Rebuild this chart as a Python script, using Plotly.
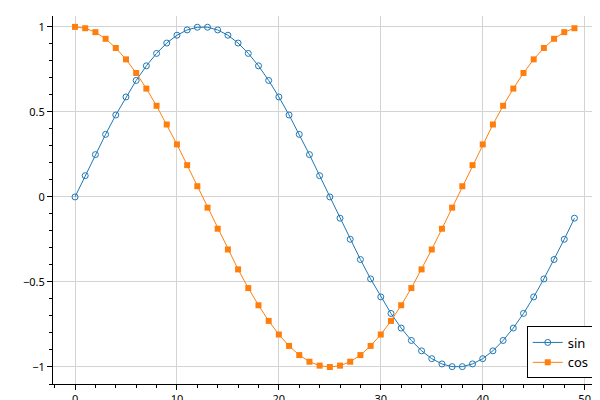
import plotly.graph_objects as go

x = list(range(50))
sin_vals = [0, 0.125, 0.249, 0.368, 0.482, 0.588, 0.685, 0.771, 0.844, 0.905,
            0.951, 0.982, 0.998, 0.998, 0.982, 0.951, 0.905, 0.844, 0.771, 0.685,
            0.588, 0.482, 0.368, 0.249, 0.125, 0, -0.125, -0.249, -0.368, -0.482,
            -0.588, -0.685, -0.771, -0.844, -0.905, -0.951, -0.982, -0.998, -0.998, -0.982,
            -0.951, -0.905, -0.844, -0.771, -0.685, -0.588, -0.482, -0.368, -0.249, -0.125]
cos_vals = [1, 0.992, 0.969, 0.930, 0.876, 0.809, 0.729, 0.637, 0.536, 0.426,
            0.309, 0.187, 0.063, -0.063, -0.187, -0.309, -0.426, -0.536, -0.637, -0.729,
            -0.809, -0.876, -0.930, -0.969, -0.992, -1, -0.992, -0.969, -0.930, -0.876,
            -0.809, -0.729, -0.637, -0.536, -0.426, -0.309, -0.187, -0.063, 0.063, 0.187,
            0.309, 0.426, 0.536, 0.637, 0.729, 0.809, 0.876, 0.930, 0.969, 0.992]

fig = go.Figure()
fig.add_trace(go.Scatter(x=x, y=sin_vals, name="sin", mode="lines+markers",
                         line=dict(color="#1f77b4", width=1),
                         marker=dict(symbol="circle-open", size=6, color="#1f77b4")))
fig.add_trace(go.Scatter(x=x, y=cos_vals, name="cos", mode="lines+markers",
                         line=dict(color="#ff7f0e", width=1),
                         marker=dict(symbol="square", size=6, color="#ff7f0e")))

axis = dict(showgrid=True, gridcolor="#d3d3d3", zeroline=False, showline=True,
            linecolor="black", ticks="outside", tickcolor="black", ticklen=5,
            minor=dict(ticks="outside", ticklen=3, tickcolor="black"), automargin=False)
fig.update_xaxes(range=[-2.16, 51.8], dtick=10, **axis)
fig.update_yaxes(range=[-1.1, 1.064], dtick=0.5, **axis)
fig.update_layout(
    width=600, height=400, plot_bgcolor="white", paper_bgcolor="white",
    margin=dict(l=45, r=5, t=8, b=24),
    font=dict(family="Noto Sans", size=11, color="black"),
    legend=dict(x=0.985, y=0.015, xanchor="right", yanchor="bottom",
                bordercolor="black", borderwidth=1, bgcolor="white",
                font=dict(size=13)),
)
fig.write_html("out.html")
